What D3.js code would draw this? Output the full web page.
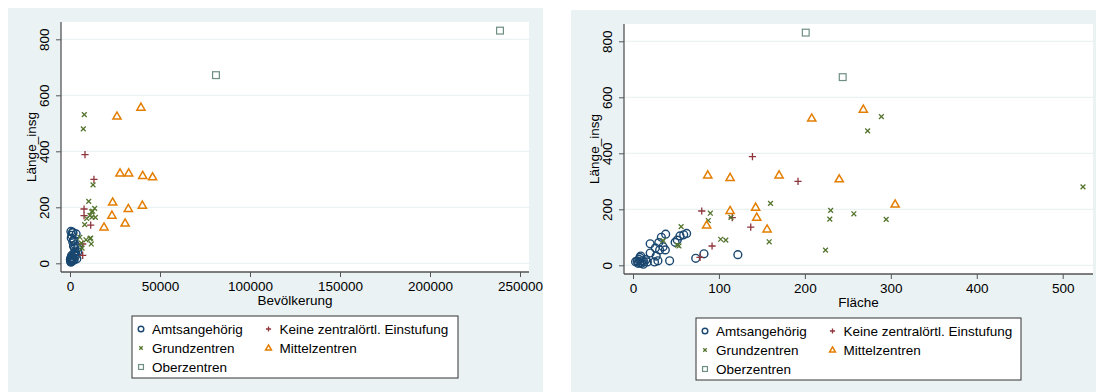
<!DOCTYPE html>
<html>
<head>
<meta charset="utf-8">
<script src="https://cdn.jsdelivr.net/npm/d3@7"></script>
<style>
  body { margin: 0; background: #fff; }
  svg { display: block; font-family: "Liberation Sans", Arial, sans-serif; }
</style>
</head>
<body>
<svg id="chart" width="1096" height="392"></svg>
<script>
// [Bevölkerung, Fläche, Länge_insg]
const amtsangehoerig = [
  [1500, 20, 77], [2000, 30, 81], [1000, 33, 100], [1400, 38, 111], [2900, 35, 66],
  [2500, 37.6, 55], [4300, 31, 55], [3300, 27, 33], [1100, 29, 16], [800, 25, 12],
  [3800, 42.6, 16], [2200, 49, 82], [700, 51.5, 90], [3400, 54.7, 105], [1700, 59, 109],
  [500, 62.4, 114], [2100, 9, 33], [600, 7, 21], [300, 5, 15], [1300, 10.8, 16],
  [200, 3, 13], [1800, 12.8, 12], [700, 8, 9], [400, 5.8, 7], [1100, 9.7, 7],
  [2300, 16.6, 12], [3000, 73, 25], [4400, 82.6, 41], [2600, 122, 38], [900, 8, 28],
  [500, 12, 4], [1400, 15, 20], [2900, 20, 44], [1900, 26, 62]
];
const keineEinstufung = [
  [8330, 139, 388], [13300, 192, 300], [7800, 80, 194], [7800, 115.5, 170],
  [11500, 137, 136], [7050, 92, 69], [7050, 78, 28]
];
const grundzentren = [
  [7950, 289, 531], [7400, 273, 480], [12800, 523.6, 280], [10400, 160, 221],
  [13700, 230, 196], [12600, 90, 186], [12000, 257, 184], [11100, 114, 171],
  [12200, 229, 165], [14100, 294.6, 164], [9300, 87.6, 160], [8150, 56, 138],
  [5500, 102, 93], [11500, 108, 90], [11100, 35, 88], [8900, 158.5, 84],
  [6300, 51.5, 72], [11800, 53.5, 69], [6700, 224, 54]
];
const mittelzentren = [
  [39400, 268, 557], [26100, 208, 525], [27800, 87, 322], [32600, 170, 322],
  [40400, 113, 313], [45900, 240, 308], [23700, 305, 218], [40200, 142.7, 207],
  [32400, 113, 195], [23300, 144, 171], [30600, 85.7, 143], [18900, 156, 129]
];
const oberzentren = [
  [238900, 201, 831], [81100, 244, 672]
];

const categories = ["Amtsangehörig", "Keine zentralörtl. Einstufung", "Grundzentren", "Mittelzentren", "Oberzentren"];
const xTicksPop = [0, 50000, 100000, 150000, 200000, 250000];
const xTicksArea = [0, 100, 200, 300, 400, 500];
const yTicks = [0, 200, 400, 600, 800];

const series = [
  { name: categories[0], data: amtsangehoerig, symbol: "circle", color: "#1a476f" },
  { name: categories[1], data: keineEinstufung, symbol: "plus", color: "#90353b" },
  { name: categories[2], data: grundzentren, symbol: "x", color: "#55752f" },
  { name: categories[3], data: mittelzentren, symbol: "triangle", color: "#e37e00" },
  { name: categories[4], data: oberzentren, symbol: "square", color: "#6e8e84" }
];

const svg = d3.select("#chart");
const FS = "13.5px";

function marker(g, symbol, color, s) {
  if (symbol === "circle") {
    g.append("circle").attr("r", 3.9 * s).attr("fill", "none").attr("stroke", color).attr("stroke-width", 1.4);
  } else if (symbol === "plus") {
    g.append("path").attr("d", `M${-3.6 * s},0H${3.6 * s}M0,${-3.6 * s}V${3.6 * s}`).attr("stroke", color).attr("stroke-width", 1.3);
  } else if (symbol === "x") {
    const r = 2.4 * s;
    g.append("path").attr("d", `M${-r},${-r}L${r},${r}M${-r},${r}L${r},${-r}`).attr("stroke", color).attr("stroke-width", 1.3);
  } else if (symbol === "triangle") {
    const r = 4.3 * s;
    g.append("path").attr("d", `M0,${-r}L${r * 0.95},${r * 0.65}L${-r * 0.95},${r * 0.65}Z`)
      .attr("fill", "none").attr("stroke", color).attr("stroke-width", 1.5);
  } else if (symbol === "square") {
    const r = 3.4 * s;
    g.append("rect").attr("x", -r).attr("y", -r).attr("width", 2 * r).attr("height", 2 * r)
      .attr("fill", "none").attr("stroke", color).attr("stroke-width", 1.2);
  }
}

function panel(cfg) {
  const { bg, plot, xDomain, xRange, yRange, xTicks, xIndex, xTitle, legend } = cfg;

  svg.append("rect").attr("x", bg[0]).attr("y", bg[1]).attr("width", bg[2] - bg[0]).attr("height", bg[3] - bg[1]).attr("fill", "#eaf2f3");
  svg.append("rect").attr("x", plot[0]).attr("y", plot[1]).attr("width", plot[2] - plot[0]).attr("height", plot[3] - plot[1]).attr("fill", "#ffffff");

  const x = d3.scaleLinear().domain(xDomain).range(xRange);
  const y = d3.scaleLinear().domain([0, 800]).range(yRange);

  // grid
  svg.append("g").selectAll("line").data(yTicks).join("line")
    .attr("x1", plot[0]).attr("x2", plot[2])
    .attr("y1", d => y(d)).attr("y2", d => y(d))
    .attr("stroke", "#eaf2f3").attr("stroke-width", 1.2);

  // y axis
  const yAxis = svg.append("g").attr("transform", `translate(${plot[0]},0)`)
    .call(d3.axisLeft(y).tickValues(yTicks).tickSize(5).tickPadding(4).tickSizeOuter(0));
  yAxis.select(".domain").attr("d", `M0,${plot[1]}V${plot[3]}`).attr("stroke", "#555").attr("stroke-width", 1.3);
  yAxis.selectAll(".tick line").attr("stroke", "#555");
  yAxis.selectAll(".tick text")
    .attr("x", 0).attr("dy", null).attr("y", 0)
    .attr("transform", "translate(-16,0) rotate(-90)")
    .attr("text-anchor", "middle").attr("dominant-baseline", "middle")
    .style("font-size", FS).attr("fill", "#000");

  // x axis
  const xAxis = svg.append("g").attr("transform", `translate(0,${plot[3]})`)
    .call(d3.axisBottom(x).tickValues(xTicks).tickSize(5).tickPadding(4).tickFormat(d3.format("d")).tickSizeOuter(0));
  xAxis.select(".domain").attr("d", `M${plot[0]},0H${plot[2]}`).attr("stroke", "#555").attr("stroke-width", 1.3);
  xAxis.selectAll(".tick line").attr("stroke", "#555");
  xAxis.selectAll(".tick text").style("font-size", FS).attr("fill", "#000");

  // titles
  const cx = (plot[0] + plot[2]) / 2;
  svg.append("text").attr("x", cx).attr("y", plot[3] + 33).attr("text-anchor", "middle")
    .style("font-size", FS).text(xTitle);
  const cy = (plot[1] + plot[3]) / 2;
  svg.append("text").attr("transform", `translate(${plot[0] - 25},${cy}) rotate(-90)`)
    .attr("text-anchor", "middle").style("font-size", FS).text("Länge_insg");

  // points
  series.forEach(s => {
    svg.append("g").selectAll("g").data(s.data).join("g")
      .attr("transform", d => `translate(${x(d[xIndex])},${y(d[2])})`)
      .each(function () { marker(d3.select(this), s.symbol, s.color, 1); });
  });

  // legend
  const [lx0, ly0, lx1, ly1] = legend;
  svg.append("rect").attr("x", lx0).attr("y", ly0).attr("width", lx1 - lx0).attr("height", ly1 - ly0)
    .attr("fill", "#fff").attr("stroke", "#333").attr("stroke-width", 1);
  series.forEach((s, i) => {
    const col = i % 2, row = Math.floor(i / 2);
    const mx = lx0 + 9 + col * 127.5;
    const my = ly0 + 13 + row * 19;
    const g = svg.append("g").attr("transform", `translate(${mx},${my})`);
    marker(g, s.symbol, s.color, 0.72);
    svg.append("text").attr("x", mx + 11).attr("y", my + 4.8).style("font-size", FS).text(s.name);
  });
}

panel({
  bg: [8, 8, 543, 392],
  plot: [61, 22, 529, 272],
  xDomain: [0, 250000], xRange: [70, 520],
  yRange: [263.3, 39.3],
  xTicks: xTicksPop, xIndex: 0, xTitle: "Bevölkerung",
  legend: [132, 316, 458, 378]
});

panel({
  bg: [571, 10, 1096, 392],
  plot: [624, 24, 1093, 274],
  xDomain: [0, 500], xRange: [633, 1062.7],
  yRange: [265.3, 41.3],
  xTicks: xTicksArea, xIndex: 1, xTitle: "Fläche",
  legend: [696, 318, 1021, 380]
});
</script>
</body>
</html>
